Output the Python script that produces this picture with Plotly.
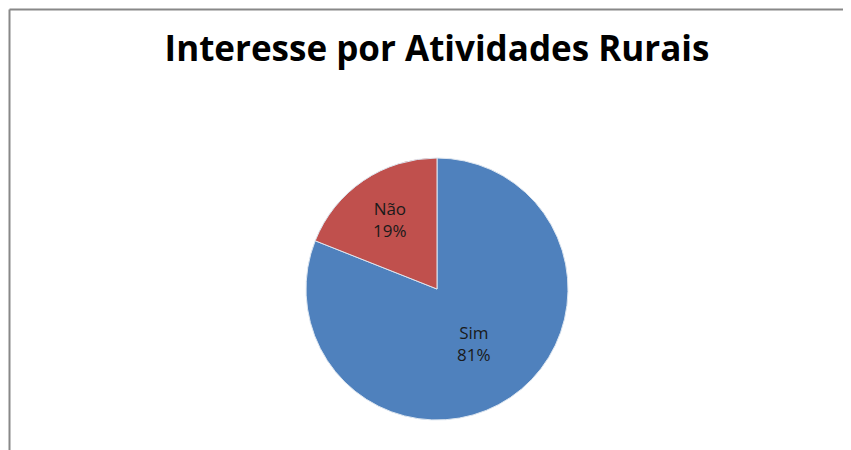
import plotly.graph_objects as go

labels = ["Sim", "Não"]
values = [81, 19]
colors = ["#4F81BD", "#C0504D"]
title_text = "Interesse por Atividades Rurais"

# the page body has an 8px margin; offset the layout accordingly
OFF = 8
W, H = 835, 442
cx, cy, r = 437 - OFF, 289 - OFF, 131

fig = go.Figure(go.Pie(
    labels=labels,
    values=values,
    sort=False,
    direction="clockwise",
    rotation=0,
    marker=dict(colors=colors, line=dict(color="#DDE6F0", width=1)),
    texttemplate="%{label}<br>%{percent:.0%}",
    textposition="inside",
    insidetextorientation="horizontal",
    textfont=dict(family="Open Sans", size=17, color="#1a1a1a"),
    hoverinfo="label+percent",
    domain=dict(x=[(cx - r) / W, (cx + r) / W],
                y=[(H - cy - r) / H, (H - cy + r) / H]),
))

fig.update_layout(
    width=W, height=H,
    margin=dict(l=0, r=0, t=0, b=0),
    paper_bgcolor="white",
    plot_bgcolor="white",
    showlegend=False,
    title=dict(text="<b>" + title_text + "</b>", x=(437 - OFF) / W, xanchor="center",
               y=1 - (49 - OFF) / H, yanchor="middle",
               font=dict(family="Open Sans", size=35, color="black")),
    shapes=[
        dict(type="line", xref="paper", yref="paper", x0=1.5 / W, x1=1.0, y0=1 - 1.5 / H, y1=1 - 1.5 / H,
             line=dict(color="#888888", width=2)),
        dict(type="line", xref="paper", yref="paper", x0=1.5 / W, x1=1.5 / W, y0=0, y1=1 - 1.5 / H,
             line=dict(color="#888888", width=2)),
    ],
)

fig.write_html("out.html")
